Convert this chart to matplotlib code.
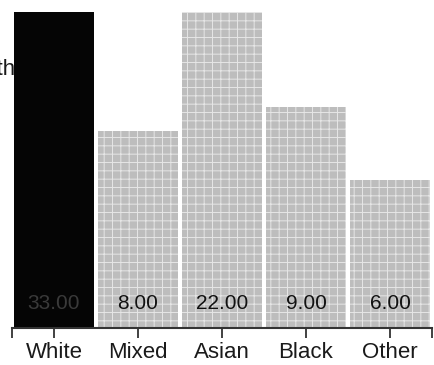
import matplotlib
matplotlib.use("Agg")
import matplotlib.pyplot as plt
from matplotlib.ticker import FixedLocator

categories = ["White", "Mixed", "Asian", "Black", "Other"]
values = [33.0, 8.0, 22.0, 9.0, 6.0]
value_labels = ["33.00", "8.00", "22.00", "9.00", "6.00"]
fills = ["#050505", "#bdbdbd", "#bdbdbd", "#bdbdbd", "#bdbdbd"]
label_colors = ["#3a3a3a", "#111111", "#111111", "#111111", "#111111"]

plt.rcParams["font.family"] = ["Liberation Sans", "DejaVu Sans"]
plt.rcParams["hatch.linewidth"] = 0.7

W, H = 434, 365
fig = plt.figure(figsize=(W / 100, H / 100), dpi=100)
ax = fig.add_axes([12 / W, 1 - 328 / H, 420 / W, 316 / H])

x = range(len(categories))
bars = ax.bar(x, values, width=0.96, color=fills, edgecolor="none", linewidth=0)
for b, c in zip(bars, fills):
    if c != "#050505":
        b.set_hatch("++")
        b.set_edgecolor("#e6e6e6")
        b.set_linewidth(0)

for xi, lab, col in zip(x, value_labels, label_colors):
    ax.annotate(lab, (xi, 0), xytext=(0, 15), textcoords="offset pixels",
                ha="center", va="bottom", fontsize=15, color=col)

ax.set_xlim(-0.5, 4.5)
ax.set_ylim(0, 12.85)
ax.set_xticks(list(x))
ax.set_xticklabels(categories, fontsize=16, color="#1a1a1a")
ax.xaxis.set_minor_locator(FixedLocator([-0.5, 4.5]))
ax.tick_params(axis="x", which="both", direction="out", length=7, width=1.3,
               color="#333333", pad=3)
ax.set_yticks([])
for s in ("left", "right", "top"):
    ax.spines[s].set_visible(False)
ax.spines["bottom"].set_color("#333333")
ax.spines["bottom"].set_linewidth(1.5)

# y label, mostly outside the left edge of the figure
fig.text(15 / W, 1 - 70 / H, "Length", ha="right", va="center",
         fontsize=16, color="#1a1a1a")

fig.savefig("out.png", dpi=100)
